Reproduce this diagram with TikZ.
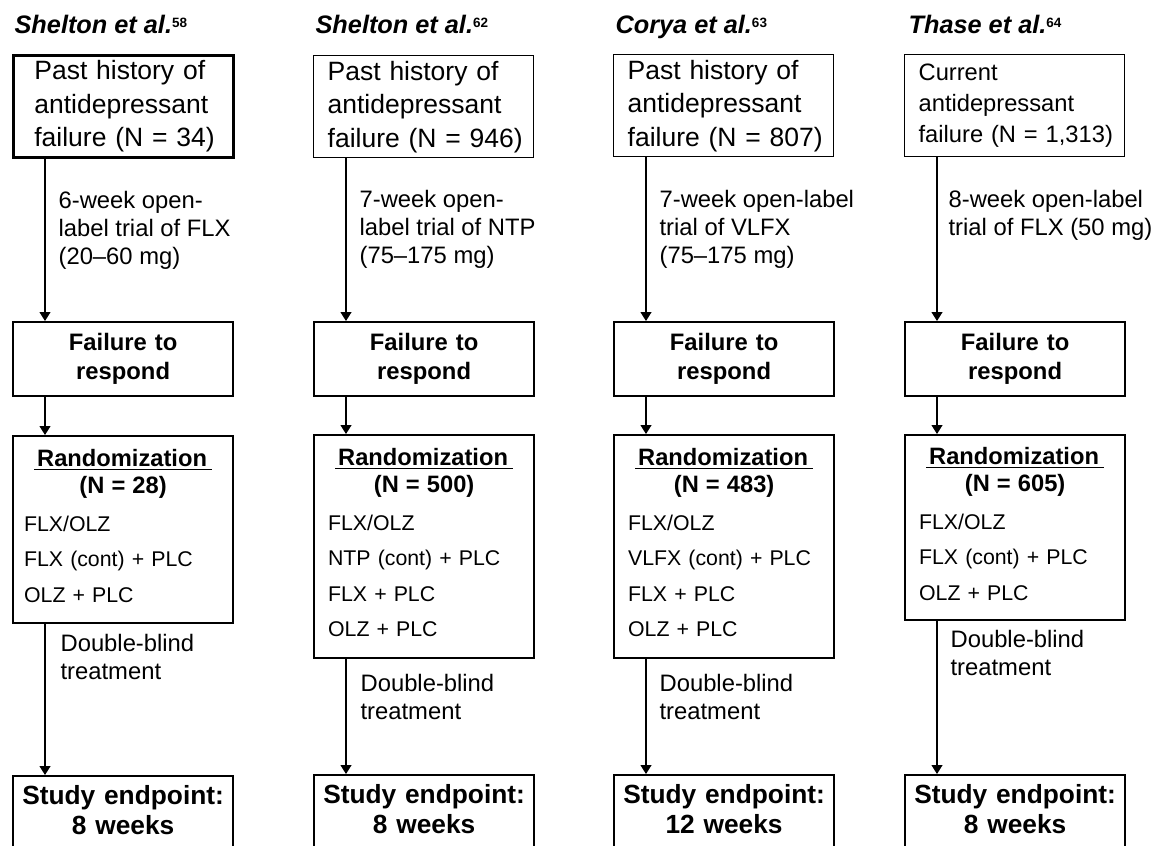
\documentclass[tikz,border=0pt]{standalone}
\usepackage{fontspec}
\setmainfont{Liberation Sans}
\usetikzlibrary{arrows.meta}

\begin{document}
\begin{tikzpicture}[x=0.5pt, y=-0.5pt, inner sep=0pt, line width=0.6pt,
  hist/.style={draw, line width=0.65pt, anchor=north west, minimum width=110pt, minimum height=51pt,
    text width=110pt, align=left, execute at begin node={\leftskip=7pt\relax},
    font=\fontsize{13.25}{16.75}\selectfont},
  fail/.style={draw, line width=1.1pt, anchor=north west, minimum width=110pt, minimum height=37pt,
    text width=110pt, align=center, font=\bfseries\fontsize{11.9}{14.5}\selectfont},
  rand/.style={draw, line width=1.1pt, anchor=north west, minimum width=110pt,
    text width=110pt, align=left, execute at begin node={\leftskip=7pt\relax},
    font=\fontsize{10.65}{17.75}\selectfont},
  endpt/.style={draw, line width=1.1pt, anchor=north west, minimum width=110pt,
    text width=110pt, inner ysep=4.6pt, align=center, font=\bfseries\fontsize{13.15}{15}\selectfont},
  lbl/.style={anchor=north west, align=left, font=\fontsize{11.9}{14}\selectfont},
  ttl/.style={anchor=base west, font=\bfseries\itshape\fontsize{12.65}{15}\selectfont},
  >={Triangle[length=4.5pt, width=5.5pt]}]
\useasboundingbox (0,0) rectangle (1158,846);
\clip (0,0) rectangle (1158,846);

\newcommand{\randhead}[1]{{\centering\bfseries\fontsize{11.85}{13.5}\selectfont
  \underline{\kern1.5pt Randomization\kern2.5pt}\\(N = #1)\par}\vspace{1.25pt}}
\newcommand{\refnum}[1]{\raisebox{3pt}{\fontsize{6.75}{7}\selectfont\upshape #1}}

% Shelton 58
\node[ttl] (t1) at (14,33) {Shelton et al.\refnum{58}};
\node[hist, line width=1.35pt, execute at begin node={\leftskip=10.5pt\relax}] (p1) at (12,54)
  {Past history of\\antidepressant\\failure (N = 34)};
\node[fail] (f1) at (12,321) {Failure to\\respond};
\node[rand, minimum height=93.5pt, execute at begin node={\leftskip=5.5pt\relax}] (r1) at (12,435)
  {\randhead{28}FLX/OLZ\\FLX (cont) + PLC\\OLZ + PLC\rule[-4.1pt]{0pt}{0pt}};
\node[endpt] (e1) at (12,775) {Study endpoint:\\8 weeks\rule[-5pt]{0pt}{0pt}};
\node[lbl] (o1) at (58,191) {6-week open-\\label trial of FLX\\(20--60 mg)};
\node[lbl] (d1) at (60,634) {Double-blind\\treatment};

% Shelton 62
\node[ttl] (t2) at (315,33) {Shelton et al.\refnum{62}};
\node[hist] (p2) at (313,55) {Past history of\\antidepressant\\failure (N = 946)};
\node[fail] (f2) at (313,321) {Failure to\\respond};
\node[rand, minimum height=111.25pt] (r2) at (313,434)
  {\randhead{500}FLX/OLZ\\NTP (cont) + PLC\\FLX + PLC\\OLZ + PLC\rule[-4.1pt]{0pt}{0pt}};
\node[endpt] (e2) at (313,774) {Study endpoint:\\8 weeks\rule[-5pt]{0pt}{0pt}};
\node[lbl] (o2) at (359,190) {7-week open-\\label trial of NTP\\(75--175 mg)};
\node[lbl] (d2) at (360,674) {Double-blind\\treatment};

% Corya 63
\node[ttl] (t3) at (615,33) {Corya et al.\refnum{63}};
\node[hist] (p3) at (613,54) {Past history of\\antidepressant\\failure (N = 807)};
\node[fail] (f3) at (613,321) {Failure to\\respond};
\node[rand, minimum height=111.25pt] (r3) at (613,434)
  {\randhead{483}FLX/OLZ\\VLFX (cont) + PLC\\FLX + PLC\\OLZ + PLC\rule[-4.1pt]{0pt}{0pt}};
\node[endpt] (e3) at (613,774) {Study endpoint:\\12 weeks\rule[-5pt]{0pt}{0pt}};
\node[lbl] (o3) at (659,190) {7-week open-label\\trial of VLFX\\(75--175 mg)};
\node[lbl] (d3) at (659,674) {Double-blind\\treatment};

% Thase 64
\node[ttl] (t4) at (908,33) {Thase et al.\refnum{64}};
\node[hist, font=\fontsize{11.85}{15.5}\selectfont] (p4) at (904,54)
  {Current\\antidepressant\\failure (N = 1,313)};
\node[fail] (f4) at (904,321) {Failure to\\respond};
\node[rand, minimum height=92.5pt] (r4) at (904,434)
  {\randhead{605}FLX/OLZ\\FLX (cont) + PLC\\OLZ + PLC\rule[-4.1pt]{0pt}{0pt}};
\node[endpt] (e4) at (904,774) {Study endpoint:\\8 weeks\rule[-5pt]{0pt}{0pt}};
\node[lbl] (o4) at (948,190) {8-week open-label\\trial of FLX (50 mg)};
\node[lbl] (d4) at (950,630) {Double-blind\\treatment};

\foreach \c in {1,2,3,4} {
  \draw[->] ([xshift=16.5pt]p\c.south west) -- ([xshift=16.5pt]f\c.north west);
  \draw[->] ([xshift=16.5pt]f\c.south west) -- ([xshift=16.5pt]r\c.north west);
  \draw[->] ([xshift=16.5pt]r\c.south west) -- ([xshift=16.5pt]e\c.north west);
}
\end{tikzpicture}
\end{document}
